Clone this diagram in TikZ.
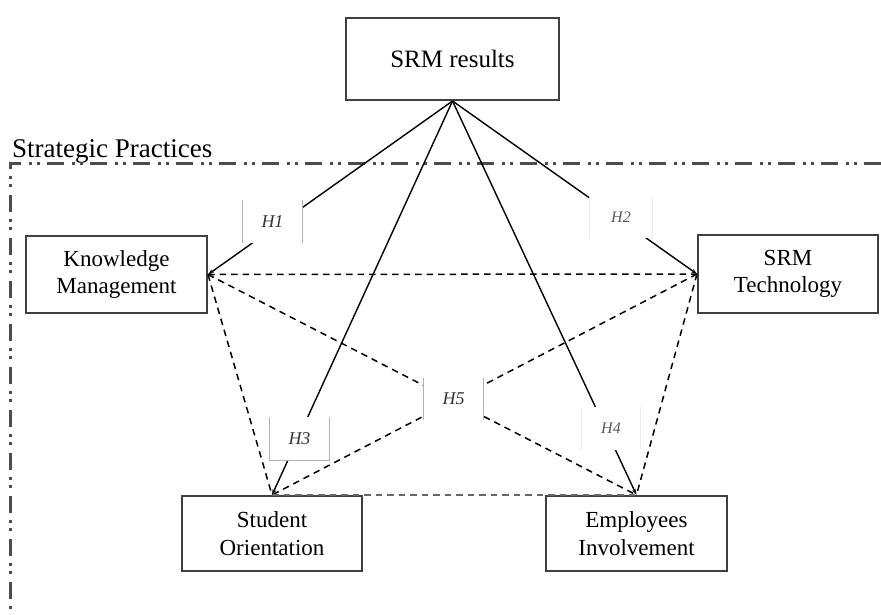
\documentclass[tikz,border=0pt]{standalone}
\usepackage{fontspec}
\setmainfont{Liberation Serif}
\usetikzlibrary{positioning, arrows.meta}

\begin{document}
\begin{tikzpicture}[x=1pt, y=-1pt,
  box/.style={rectangle, draw=black!75, line width=2pt, fill=white,
              align=center, text=black,
              font=\fontsize{23}{27.5}\selectfont},
  hyp/.style={rectangle, fill=white, inner sep=0pt, text=black!80,
              font=\fontsize{18}{20}\selectfont\itshape},
  hline/.style={draw=black!30, line width=0.8pt},
  arr/.style={-{Stealth[length=6pt,width=4pt]}, line width=1.4pt},
  corr/.style={line width=1.5pt, dash pattern=on 6.5pt off 5pt},
  frame/.style={line width=3pt, draw=black!70,
                dash pattern=on 17pt off 7pt on 3pt off 5pt on 3pt off 8pt}
]
  \useasboundingbox (0,0) rectangle (881,614);

  % outer results box and the five practices
  \node[box, minimum width=213pt, minimum height=82pt,
        font=\fontsize{25}{30}\selectfont] (res) at (452.5,59) {SRM results};
  \node[box, minimum width=181pt, minimum height=77pt] (km)   at (116.5,274.5) {Knowledge\\Management};
  \node[box, minimum width=180pt, minimum height=78pt] (tech) at (788,274) {SRM\\Technology};
  \node[box, minimum width=180pt, minimum height=75pt] (so)   at (272,533.5) {Student\\Orientation};
  \node[box, minimum width=181pt, minimum height=75pt] (ei)   at (636.5,533.5) {Employees\\Involvement};

  % strategic practices frame
  \node[anchor=base west, inner sep=0pt, text=black,
        font=\fontsize{27}{32}\selectfont] (sp) at (12,157) {Strategic Practices};
  \draw[frame] (881,163) -- (10,163) -- (10,614);

  % correlations between practices
  \draw[corr] (km.east) -- (tech.west);
  \draw[corr] (km.east) -- (so.north);
  \draw[corr] (km.east) -- (ei.north);
  \draw[corr] (tech.west) -- (so.north);
  \draw[corr] (tech.west) -- (ei.north);
  \draw[corr, draw=black!60] (so.north) -- (ei.north);

  % hypotheses to results
  \draw[arr] (res.south) -- (km.east);
  \draw[arr] (res.south) -- (tech.west);
  \draw[arr] (res.south) -- (so.north);
  \draw[arr] (res.south) -- (ei.north);

  % hypothesis labels
  \node[hyp, minimum width=59pt, minimum height=43pt] (h1) at (272.5,221.5) {H1};
  \node[hyp, minimum width=62pt, minimum height=41pt,
        font=\fontsize{16}{18}\selectfont\itshape, text=black!65] (h2) at (621,217.5) {H2};
  \node[hyp, minimum width=59pt, minimum height=43pt] (h3) at (299.5,438.5) {H3};
  \node[hyp, minimum width=58pt, minimum height=43pt,
        font=\fontsize{16}{18}\selectfont\itshape, text=black!65] (h4) at (611,428.5) {H4};
  \node[hyp, minimum width=59pt, minimum height=42pt] (h5) at (453.5,399) {H5};

  \draw[hline] (h1.north west) -- (h1.south west) (h1.north east) -- (h1.south east);
  \draw[hline] (h3.north west) -- (h3.south west) -- (h3.south east) -- (h3.north east);
  \draw[hline] (h5.north west) -- (h5.south west) (h5.north east) -- (h5.south east);
  \draw[hline, draw=black!8] (h2.north west) -- (h2.south west) (h2.north east) -- (h2.south east);
  \draw[hline, draw=black!8] (h4.north west) -- (h4.south west) (h4.north east) -- (h4.south east);
\end{tikzpicture}
\end{document}
